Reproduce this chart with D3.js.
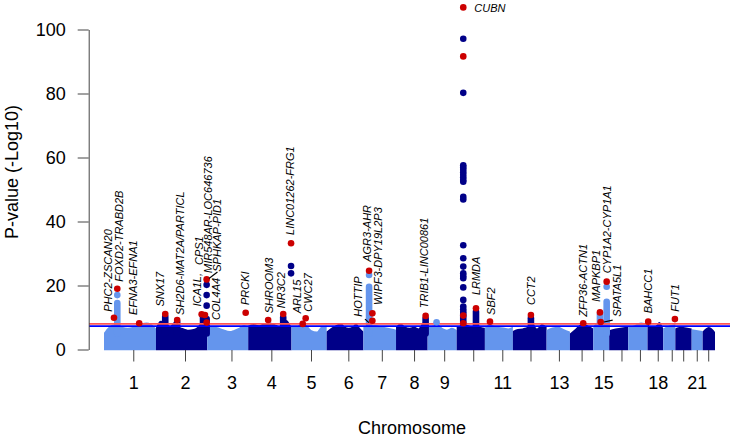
<!DOCTYPE html>
<html><head><meta charset="utf-8">
<script src="https://cdn.jsdelivr.net/npm/d3@7"></script>
<style>
body{margin:0;background:#fff}
svg{display:block}
text{font-family:"Liberation Sans",Arial,Helvetica,sans-serif}
</style>
</head><body>
<svg id="chart" width="736" height="438"></svg>
<script>
// ---------- data ----------
const chromosomes = d3.range(1, 23).map(String);
// plotted span of each chromosome (Mb)
const chrLen = [245,242,193,204,166,173,154,149,137,133,132,159,110,110,75,90,91,74,57,77,52,58];
// tick (median SNP) position inside each chromosome (Mb)
const tickPos = [138,137,114,109,92,102,87,85,78,78,82,83,58,55,47,58,55,48,40,37,24,26];
const tickLabels = ["1","2","3","4","5","6","7","8","9","","11","","13","","15","","","18","","","21",""];
const yTicks = [0,20,40,60,80,100];
const genomeWideLine = 8;      // red
const suggestiveLine = 7.3;    // blue

// upper envelope of the dense SNP cloud, evenly sampled across each chromosome (-log10 p)
const massTop = [
  [5.2,7.0,7.8,7.4,7.0,6.8,7.0,7.4,8.2,8.4,8.0,6.6],
  [6.8,9.0,8.6,7.4,8.6,7.0,6.6,6.2,6.4,7.2,9.0,7.6],
  [7.0,7.2,7.0,6.6,6.1,5.8,6.2,6.8,7.6,7.2],
  [7.4,8.0,7.6,8.2,8.4,7.8,7.2,9.2,7.0],
  [7.0,7.2,8.0,7.6,6.0,5.6,7.2,7.4],
  [5.6,6.6,7.3,7.9,8.2,7.1,6.8,7.1,8.2,6.8,5.6],
  [7.0,7.4,7.6,7.5,7.1,6.9,6.6,6.2],
  [7.0,8.2,7.2,6.8,7.2,6.6,8.4,7.0],
  [7.0,7.4,8.0,6.8,6.2,6.8,6.0],
  [7.0,7.6,8.0,7.6,7.2,8.0,7.0,6.8],
  [6.8,7.8,7.4,7.0,6.9,6.6,7.1],
  [5.8,6.4,6.6,7.1,8.6,6.6,8.0,7.1],
  [6.1,6.9,7.1,6.3,5.6],
  [5.0,6.6,8.0,7.6,6.6],
  [7.0,8.4,7.2,8.0,6.6],
  [6.0,6.6,6.9,7.1],
  [7.0,7.6,8.4,7.8],
  [8.0,7.1,7.3,8.6,6.6],
  [6.6,7.5,8.0],
  [6.6,7.1,6.9,6.6],
  [6.3,5.8],
  [5.6,7.0,5.5]
];

// stacked SNP columns above the cloud
const colChr = [1,2,2,2,2,4,7,8,10,10,12,15,15];
const colPos = [62.7,43.8,100,222,239,165,26.9,139.5,31,91,85,31.6,63.2];
const colTop = [14.5,10.2,8.6,10.5,9.5,10.0,19.6,9.6,11.2,11.8,9.8,11.0,14.9];

// individual SNPs (chromosome colour)
const snpChr = [1,2,2,2,4,4,7,9,
  10,10,10,10,10,10,10,10,10,10,10,10,10,10,10,10,10,10,10,10,10,10,10,15];
const snpPos = [62.7,239,239,239,202,202,26.9,42,
  31,31,31,31,31,31,31,31,31,31,31,31,31,31,31,31,31,31,31,31,31,31,31,63.2];
const snpVal = [17.0,20.2,17.0,13.7,26.1,23.8,23.3,8.5,
  97.1,80.2,57.6,56.9,56.2,55.4,54.6,53.8,53.0,52.4,47.7,46.9,32.6,28.5,25.9,23.8,23.0,22.3,19.4,15.5,13.4,12.6,11.8,19.6];

// highlighted (red) SNPs
const hitChr = [1,1,1,2,2,2,2,2,2,3,4,4,4,5,5,7,7,7,8,10,10,10,10,10,11,12,14,15,15,15,17,19];
const hitPos = [47,62.7,166,43.8,100,215.5,231,239,239,181,94,165,202,53,67,26.9,42.4,42.4,139.5,31,31,31,31,91,24,85,62.7,31.6,35,63.2,94,55];
const hitVal = [9.9,19.0,8.2,11.1,9.2,11.0,10.8,21.9,8.4,11.5,9.2,11.1,33.2,8.0,9.75,24.6,11.3,9.0,10.5,106.9,91.6,10.6,8.2,12.9,8.7,10.8,8.2,11.6,8.6,21.2,8.7,9.5];

// gene labels (anchor = start of text)
const labText = ["PHC2-ZSCAN20","FOXD2-TRABD2B","EFNA3-EFNA1","SNX17","SH2D6-MAT2A/PARTICL","ICA1L,","CPS1",
  "MIR548AR-LOC646736","SPHKAP-PID1","COL4A4","PRCKI","SHROOM3","NR3C2","LINC01262-FRG1","ARL15","CWC27",
  "HOTTIP","AGR3-AHR","WIPF3-DPY19L2P3","TRIB1-LINC00861","CUBN","LRMDA","SBF2","CCT2","ZFP36-ACTN1",
  "MAPKBP1","CYP1A2-CYP1A1","SPATA5L1","BAHCC1","FUT1"];
const labChr = [1,1,1,2,2,2,2,2,2,2,3,4,4,4,5,5,6,7,7,8,10,10,11,12,14,15,15,15,17,19];
const labPos = [20.3,72,138,19,113,195,203,246.6,290,283,177.7,99,157.5,200,29,79,149,16,67.4,131.5,83,94,28.8,84,60,12.7,67,112,94,55];
const labVal = [11.8,21.2,10.8,13.4,10.8,13.4,26.4,23.9,24.3,9.2,13.9,11.3,12.9,35.8,11.3,11.8,10.25,27.4,13.9,12.9,106.7,17,10.8,13.9,10.25,14.9,23.8,10.25,11.3,11.8];
const labHorizontal = ["CUBN"];

// leader lines from labels to SNPs
const leadChr = [2,6,15];
const leadFromPos = [290,180.6,91.5];
const leadFromVal = [24.2,9.5,9.2];
const leadToPos = [250,199.5,50.4];
const leadToVal = [22.2,8.4,8.6];

// ---------- drawing ----------
const LIGHT = "#6495ED", DARK = "#000088", RED = "#CC0000";
const svg = d3.select("#chart");
const chrStart = [];
chrLen.reduce((acc, l, i) => { chrStart[i] = acc; return acc + l; }, 0);
const total = d3.sum(chrLen);

const x = d3.scaleLinear().domain([0, total]).range([104, 715]);
const y = d3.scaleLinear().domain([0, 100]).range([349.5, 29.5]);
const gpos = (c, p) => chrStart[c - 1] + p;
const colorOf = c => (c % 2 ? LIGHT : DARK);
const R = 3.3;

// cloud
const area = d3.area().x(d => x(d[0])).y0(y(0) + 0.8).y1(d => y(d[1])).curve(d3.curveMonotoneX);
const gMass = svg.append("g");
massTop.forEach((vals, i) => {
  const n = vals.length;
  const pts = vals.map((v, k) => [chrStart[i] + k * chrLen[i] / (n - 1), v]);
  gMass.append("path").attr("d", area(pts)).attr("fill", colorOf(i + 1));
});

// columns
svg.append("g").selectAll("line").data(d3.range(colChr.length)).join("line")
  .attr("x1", i => x(gpos(colChr[i], colPos[i]))).attr("x2", i => x(gpos(colChr[i], colPos[i])))
  .attr("y1", y(5)).attr("y2", i => y(colTop[i]))
  .attr("stroke", i => colorOf(colChr[i])).attr("stroke-width", 2 * R).attr("stroke-linecap", "round");

// threshold lines
svg.append("line").attr("x1", 89).attr("x2", 730).attr("y1", y(genomeWideLine)).attr("y2", y(genomeWideLine))
  .attr("stroke", "#FF5555").attr("stroke-width", 1.8);
svg.append("line").attr("x1", 89).attr("x2", 730).attr("y1", y(suggestiveLine)).attr("y2", y(suggestiveLine))
  .attr("stroke", "#0000FF").attr("stroke-width", 1.6);

// single SNPs
svg.append("g").selectAll("circle").data(d3.range(snpChr.length)).join("circle")
  .attr("cx", i => x(gpos(snpChr[i], snpPos[i]))).attr("cy", i => y(snpVal[i])).attr("r", R)
  .attr("fill", i => colorOf(snpChr[i]));

// red hits
svg.append("g").selectAll("circle").data(d3.range(hitChr.length)).join("circle")
  .attr("cx", i => x(gpos(hitChr[i], hitPos[i]))).attr("cy", i => y(hitVal[i])).attr("r", R)
  .attr("fill", RED);

// leaders
svg.append("g").selectAll("line").data(d3.range(leadChr.length)).join("line")
  .attr("x1", i => x(gpos(leadChr[i], leadFromPos[i]))).attr("y1", i => y(leadFromVal[i]))
  .attr("x2", i => x(gpos(leadChr[i], leadToPos[i]))).attr("y2", i => y(leadToVal[i]))
  .attr("stroke", "#000").attr("stroke-width", 1.2);

// labels
svg.append("g").selectAll("text").data(d3.range(labText.length)).join("text")
  .attr("transform", i => {
    const tx = x(gpos(labChr[i], labPos[i])), ty = y(labVal[i]);
    return labHorizontal.includes(labText[i]) ? `translate(${tx},${ty})` : `translate(${tx},${ty}) rotate(-90)`;
  })
  .attr("dy", "0.35em").attr("text-anchor", "start")
  .attr("font-size", 11).attr("font-style", "italic").attr("fill", "#000")
  .text(i => labText[i]);

// y axis
const yAxis = d3.axisLeft(y).tickValues(yTicks).tickSize(11).tickSizeOuter(0).tickPadding(12);
const gy = svg.append("g").attr("transform", "translate(88.7,0)").call(yAxis);
gy.selectAll("text").attr("font-size", 18).attr("fill", "#000").style("font-family", '"Liberation Sans",Arial,sans-serif');
gy.selectAll("line,path").attr("stroke", "#444");

// x axis
const xTickVals = chromosomes.map((c, i) => chrStart[i] + tickPos[i]);
const xAxis = d3.axisBottom(x).tickValues(xTickVals).tickSize(11.5).tickPadding(15)
  .tickFormat((d, i) => tickLabels[i]);
const gxA = svg.append("g").attr("transform", `translate(0,${y(0) + 0.5})`).call(xAxis);
gxA.select(".domain").remove();
gxA.selectAll("text").attr("font-size", 18).attr("fill", "#000").style("font-family", '"Liberation Sans",Arial,sans-serif');
gxA.selectAll("line").attr("stroke", "#444");

// titles
svg.append("text").attr("transform", "translate(18,172) rotate(-90)").attr("text-anchor", "middle")
  .attr("font-size", 18).text("P-value (-Log10)");
svg.append("text").attr("x", 412).attr("y", 434).attr("text-anchor", "middle")
  .attr("font-size", 18).text("Chromosome");
</script>
</body></html>
